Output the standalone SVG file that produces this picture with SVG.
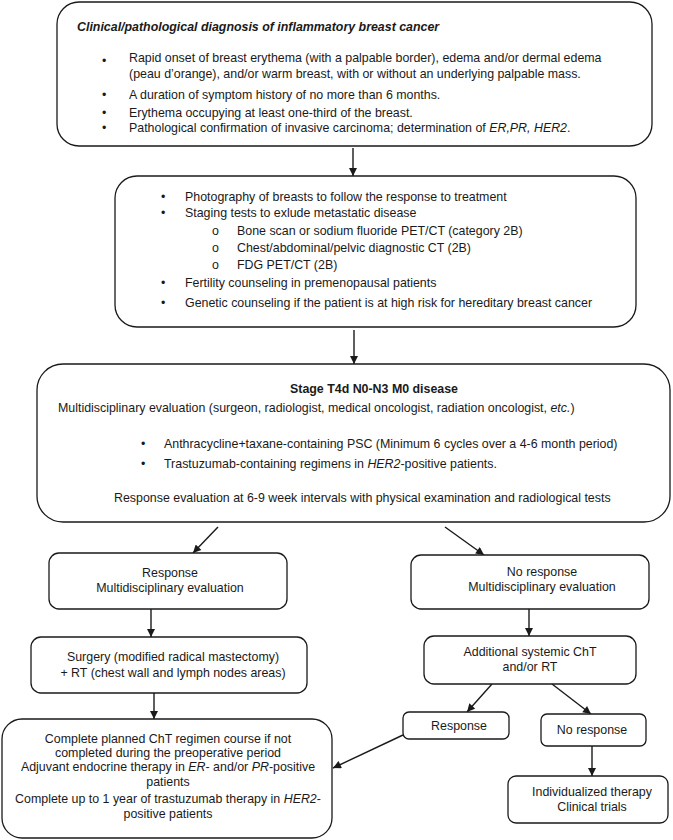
<svg xmlns="http://www.w3.org/2000/svg" width="673" height="840" viewBox="0 0 673 840">
<defs>
<style>
.box{fill:#fff;stroke:#1a1a1a;stroke-width:1.3}
text{font-family:"Liberation Sans",Arial,Helvetica,sans-serif;font-size:12.4px;fill:#1a1a1a}
.c{text-anchor:middle}
.b{font-weight:bold}
.i{font-style:italic}
.conn{stroke:#1a1a1a;stroke-width:1.4;fill:none;marker-end:url(#ah)}
</style>
<marker id="ah" viewBox="0 0 10 10" refX="10" refY="5" markerWidth="10" markerHeight="8" markerUnits="userSpaceOnUse" orient="auto">
<path d="M0,0 L10,5 L0,10 z" fill="#1a1a1a"/>
</marker>
</defs>
<rect width="673" height="840" fill="#fff"/>

<g id="connectors">
<line class="conn" x1="353" y1="148" x2="353" y2="176"/>
<line class="conn" x1="354" y1="330" x2="354" y2="364"/>
<line class="conn" x1="218" y1="527" x2="193" y2="553"/>
<line class="conn" x1="445" y1="527" x2="484" y2="555"/>
<line class="conn" x1="151" y1="609" x2="151" y2="637"/>
<line class="conn" x1="529" y1="609" x2="529" y2="636"/>
<line class="conn" x1="154" y1="693" x2="154" y2="719"/>
<line class="conn" x1="492" y1="684" x2="467" y2="712"/>
<line class="conn" x1="552" y1="684" x2="591" y2="714"/>
<line class="conn" x1="592" y1="746" x2="592" y2="776"/>
<line class="conn" x1="403" y1="735" x2="333" y2="768"/>
</g>

<g id="diagnosis">
<rect class="box" x="57" y="2" width="595" height="144" rx="22"/>
<text class="b i" x="77" y="31">Clinical/pathological diagnosis of inflammatory breast cancer</text>
<text x="102" y="65">•</text>
<text x="129" y="62">Rapid onset of breast erythema (with a palpable border), edema and/or dermal edema</text>
<text x="129" y="78">(peau d’orange), and/or warm breast, with or without an underlying palpable mass.</text>
<text x="102" y="99">•</text>
<text x="129" y="99">A duration of symptom history of no more than 6 months.</text>
<text x="102" y="117">•</text>
<text x="129" y="117">Erythema occupying at least one-third of the breast.</text>
<text x="102" y="132">•</text>
<text x="129" y="132">Pathological confirmation of invasive carcinoma; determination of <tspan class="i">ER,PR, HER2</tspan>.</text>
</g>

<g id="workup">
<rect class="box" x="115" y="176" width="521" height="151" rx="22"/>
<text x="161" y="201">•</text>
<text x="185" y="201">Photography of breasts to follow the response to treatment</text>
<text x="161" y="217">•</text>
<text x="185" y="217">Staging tests to exlude metastatic disease</text>
<text x="212" y="235">o</text>
<text x="237" y="235">Bone scan or sodium fluoride PET/CT (category 2B)</text>
<text x="212" y="252">o</text>
<text x="237" y="252">Chest/abdominal/pelvic diagnostic CT (2B)</text>
<text x="212" y="269">o</text>
<text x="237" y="269">FDG PET/CT (2B)</text>
<text x="161" y="287">•</text>
<text x="185" y="287">Fertility counseling in premenopausal patients</text>
<text x="161" y="307">•</text>
<text x="185" y="307">Genetic counseling if the patient is at high risk for hereditary breast cancer</text>
</g>

<g id="stage">
<rect class="box" x="37" y="364" width="633" height="158" rx="26"/>
<text class="b c" x="374" y="393">Stage T4d N0-N3 M0 disease</text>
<text x="58" y="412">Multidisciplinary evaluation (surgeon, radiologist, medical oncologist, radiation oncologist, <tspan class="i">etc.</tspan>)</text>
<text x="141" y="448">•</text>
<text x="164" y="448">Anthracycline+taxane-containing PSC (Minimum 6 cycles over a 4-6 month period)</text>
<text x="141" y="468">•</text>
<text x="164" y="468">Trastuzumab-containing regimens in <tspan class="i">HER2</tspan>-positive patients.</text>
<text x="114" y="502">Response evaluation at 6-9 week intervals with physical examination and radiological tests</text>
</g>

<g id="response">
<rect class="box" x="49" y="553" width="238" height="56" rx="10"/>
<text class="c" x="170" y="577">Response</text>
<text class="c" x="170" y="592">Multidisciplinary evaluation</text>
</g>

<g id="no-response">
<rect class="box" x="411" y="555" width="238" height="54" rx="10"/>
<text class="c" x="542" y="576">No response</text>
<text class="c" x="542" y="591">Multidisciplinary evaluation</text>
</g>

<g id="surgery">
<rect class="box" x="31" y="637" width="276" height="56" rx="10"/>
<text class="c" x="173" y="661">Surgery (modified radical mastectomy)</text>
<text class="c" x="173" y="677">+ RT (chest wall and lymph nodes areas)</text>
</g>

<g id="additional">
<rect class="box" x="424" y="636" width="212" height="48" rx="10"/>
<text class="c" x="530" y="656">Additional systemic ChT</text>
<text class="c" x="530" y="671">and/or RT</text>
</g>

<g id="response-2">
<rect class="box" x="403" y="712" width="106" height="27" rx="6"/>
<text class="c" x="459" y="730">Response</text>
</g>

<g id="no-response-2">
<rect class="box" x="541" y="714" width="105" height="32" rx="6"/>
<text class="c" x="592" y="734">No response</text>
</g>

<g id="individualized">
<rect class="box" x="508" y="776" width="160" height="47" rx="8"/>
<text class="c" x="592" y="796">Individualized therapy</text>
<text class="c" x="592" y="811">Clinical trials</text>
</g>

<g id="adjuvant">
<rect class="box" x="2" y="719" width="330" height="119" rx="20"/>
<text class="c" x="168" y="743">Complete planned ChT regimen course if not</text>
<text class="c" x="168" y="757">completed during the preoperative period</text>
<text class="c" x="168" y="771">Adjuvant endocrine therapy in <tspan class="i">ER</tspan>- and/or <tspan class="i">PR</tspan>-positive</text>
<text class="c" x="168" y="786">patients</text>
<text class="c" x="168" y="803">Complete up to 1 year of trastuzumab therapy in <tspan class="i">HER2</tspan>-</text>
<text class="c" x="168" y="818">positive patients</text>
</g>
</svg>
